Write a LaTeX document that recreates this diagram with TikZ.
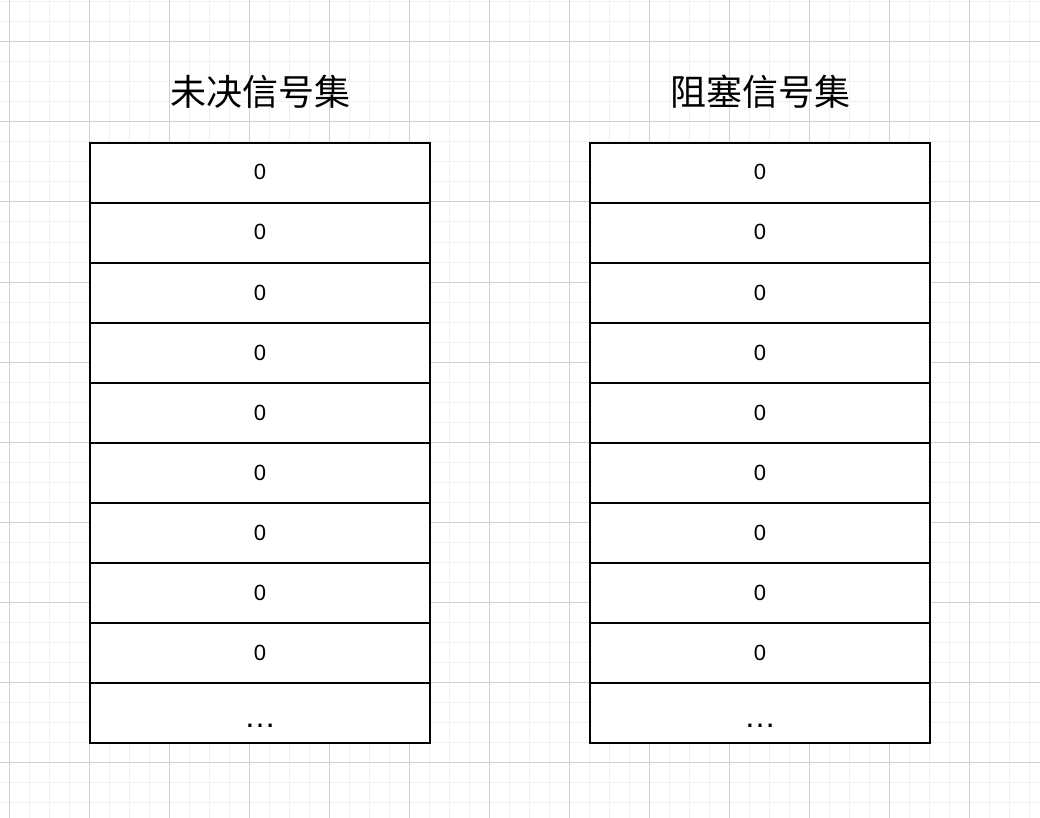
\documentclass[tikz,border=0pt]{standalone}
\usepackage{fontspec}
\setmainfont{Liberation Sans}
\newfontfamily\cjk{Noto Sans CJK SC}
\definecolor{minorgrid}{HTML}{F0F0F0}
\definecolor{majorgrid}{HTML}{D0D0D0}
\begin{document}
\begin{tikzpicture}[x=1pt,y=-1pt,
  cell/.style={draw=black,line width=2pt,minimum width=340pt,minimum height=60pt,inner sep=0pt,outer sep=0pt,fill=white},
  val/.style={font=\fontsize{22}{22}\selectfont,anchor=base,inner sep=0pt},
  dots/.style={font=\fontsize{32}{32}\selectfont,anchor=base,inner sep=0pt},
  title/.style={font=\cjk\fontsize{36}{36}\selectfont,inner sep=0pt}]
\fill[white] (0,0) rectangle (1040,818);
\useasboundingbox (0,0) rectangle (1040,818);
% grid
\foreach \x in {9,29,...,1040} \draw[minorgrid,line width=1pt] (\x,0) -- (\x,818);
\foreach \y in {2,22,...,818} \draw[minorgrid,line width=1pt] (0,\y) -- (1040,\y);
\foreach \x in {9,89,...,1040} \draw[majorgrid,line width=1pt] (\x,0) -- (\x,818);
\foreach \y in {42,122,...,818} \draw[majorgrid,line width=1pt] (0,\y) -- (1040,\y);
% titles
\node[title] (t1) at (260,92) {未决信号集};
\node[title] (t2) at (760,92) {阻塞信号集};
% columns
\foreach \c/\cx in {a/260,b/760}{
  \foreach \i in {0,...,9}{
    \node[cell] (\c\i) at (\cx,{173+60*\i}) {};
  }
  \foreach \i in {0,...,8}{
    \node[val] (\c v\i) at (\cx,{180+60*\i}) {0};
  }
  \node[dots] (\c v9) at (\cx,727) {…};
}
\end{tikzpicture}
\end{document}
